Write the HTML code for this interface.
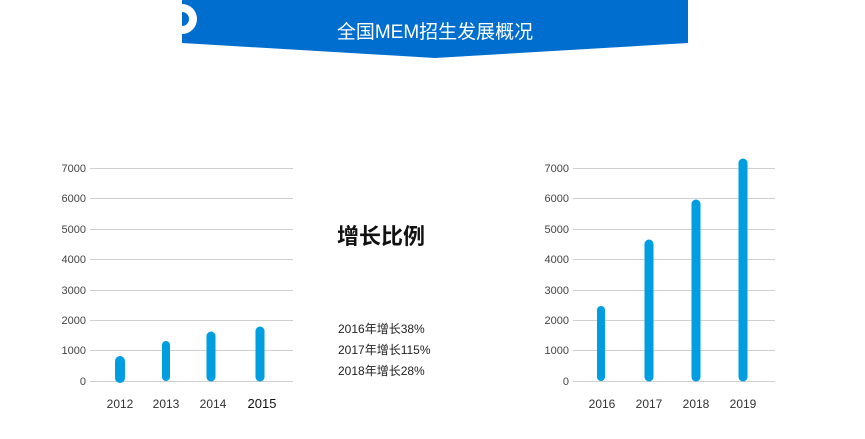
<!DOCTYPE html>
<html><head><meta charset="utf-8"><style>
body{margin:0;width:865px;height:439px;background:#fff;overflow:hidden;position:relative;font-family:"Liberation Sans","Noto Sans CJK SC",sans-serif}
</style></head><body>
<svg width="865" height="439" style="position:absolute;left:0;top:0" font-family="Liberation Sans, Noto Sans CJK SC, sans-serif">
<polygon points="182,0 688,0 688,43 435,58 182,43" fill="#006ecf"/>
<path d="M182,4 A14,14 0 1 1 182,34 L182,26 A7,7 0 1 0 182,12 Z" fill="#fff"/>
<text x="435" y="38" fill="#fff" font-size="19" text-anchor="middle">全国MEM招生发展概况</text>
<g stroke="#d0d0d0" stroke-width="1">
<line x1="90" x2="293" y1="168.5" y2="168.5"/><line x1="90" x2="293" y1="198.5" y2="198.5"/><line x1="90" x2="293" y1="229.5" y2="229.5"/><line x1="90" x2="293" y1="259.5" y2="259.5"/><line x1="90" x2="293" y1="290.5" y2="290.5"/><line x1="90" x2="293" y1="320.5" y2="320.5"/><line x1="90" x2="293" y1="350.5" y2="350.5"/><line x1="90" x2="293" y1="381.5" y2="381.5"/>
<line x1="573" x2="775" y1="168.5" y2="168.5"/><line x1="573" x2="775" y1="198.5" y2="198.5"/><line x1="573" x2="775" y1="229.5" y2="229.5"/><line x1="573" x2="775" y1="259.5" y2="259.5"/><line x1="573" x2="775" y1="290.5" y2="290.5"/><line x1="573" x2="775" y1="320.5" y2="320.5"/><line x1="573" x2="775" y1="350.5" y2="350.5"/><line x1="573" x2="775" y1="381.5" y2="381.5"/>
</g>
<g font-size="11" fill="#444" text-anchor="end">
<text x="86" y="172">7000</text><text x="86" y="202">6000</text><text x="86" y="233">5000</text><text x="86" y="263">4000</text><text x="86" y="294">3000</text><text x="86" y="324">2000</text><text x="86" y="354">1000</text><text x="86" y="385">0</text>
<text x="569" y="172">7000</text><text x="569" y="202">6000</text><text x="569" y="233">5000</text><text x="569" y="263">4000</text><text x="569" y="294">3000</text><text x="569" y="324">2000</text><text x="569" y="354">1000</text><text x="569" y="385">0</text>
</g>
<g stroke="#009ee0" stroke-linecap="round">
<line x1="120" x2="120" y1="361" y2="378" stroke-width="10"/>
<line x1="166" x2="166" y1="345" y2="377" stroke-width="8"/>
<line x1="211" x2="211" y1="336" y2="377" stroke-width="9"/>
<line x1="260" x2="260" y1="331" y2="377" stroke-width="9"/>
<line x1="601" x2="601" y1="310" y2="377" stroke-width="8"/>
<line x1="649" x2="649" y1="244" y2="377" stroke-width="9"/>
<line x1="696" x2="696" y1="204" y2="377" stroke-width="9"/>
<line x1="743" x2="743" y1="163" y2="377" stroke-width="9"/>
</g>
<g font-size="12" fill="#333" text-anchor="middle">
<text x="120" y="408">2012</text><text x="166" y="408">2013</text><text x="213" y="408">2014</text><text x="262" y="408" font-size="13" fill="#111">2015</text>
<text x="602" y="408">2016</text><text x="649" y="408">2017</text><text x="696" y="408">2018</text><text x="743" y="408">2019</text>
</g>
<text x="337" y="244" font-size="22" font-weight="bold" fill="#111">增长比例</text>
<g font-size="12" fill="#222">
<text x="338" y="333">2016年增长38%</text><text x="338" y="354">2017年增长115%</text><text x="338" y="375">2018年增长28%</text>
</g>
</svg>
</body></html>
